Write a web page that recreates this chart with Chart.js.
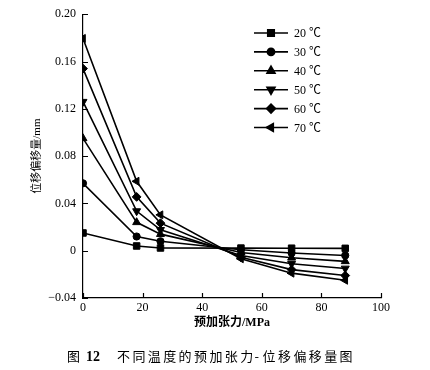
<!DOCTYPE html>
<html>
<head>
<meta charset="utf-8">
<script src="https://cdn.jsdelivr.net/npm/chart.js@4.4.0/dist/chart.umd.min.js"></script>
<style>
  html, body { margin: 0; padding: 0; background: #fff; }
  #wrap { width: 430px; height: 370px; }
</style>
</head>
<body>
<div id="wrap"><canvas id="tensionChart" width="430" height="370"></canvas></div>
<script>
// 预加张力 (MPa)
const tension = [0, 18, 26, 53, 70, 88];

// 位移偏移量 (mm)
const t20 = [0.015, 0.004, 0.0023, 0.0022, 0.0021, 0.002];
const t30 = [0.057, 0.012, 0.008, 0.0008, -0.002, -0.004];
const t40 = [0.095, 0.024, 0.014, -0.0015, -0.006, -0.009];
const t50 = [0.126, 0.0335, 0.0177, -0.004, -0.011, -0.015];
const t60 = [0.154, 0.0455, 0.0233, -0.0055, -0.016, -0.021];
const t70 = [0.1795, 0.0587, 0.0303, -0.0068, -0.019, -0.025];

const seriesNames = ['20 ℃', '30 ℃', '40 ℃', '50 ℃', '60 ℃', '70 ℃'];
const xTicks = [0, 20, 40, 60, 80, 100];
const yTicks = [-0.04, 0, 0.04, 0.08, 0.12, 0.16, 0.20];

const serif = '"Liberation Serif", "Noto Sans CJK SC", serif';

const markers = [
    { style: 'rect', radius: 4.6, rotation: 0 },
    { style: 'circle', radius: 3.6, rotation: 0 },
    { style: 'triangle', radius: 4.6, rotation: 0 },
    { style: 'triangle', radius: 4.6, rotation: 180 },
    { style: 'rectRot', radius: 4.4, rotation: 0 },
    { style: 'triangle', radius: 4.6, rotation: -90 }
];

const values = [t20, t30, t40, t50, t60, t70];

const datasets = values.map((arr, i) => ({
    label: seriesNames[i],
    data: arr.map((v, j) => ({ x: tension[j], y: v })),
    borderColor: '#000',
    backgroundColor: '#000',
    borderWidth: 1.6,
    pointStyle: markers[i].style,
    pointRadius: markers[i].radius,
    pointRotation: markers[i].rotation,
    pointBorderWidth: 1,
    tension: 0
}));

// 刻度线朝内
const innerTicks = {
    id: 'innerTicks',
    afterDraw(chart) {
        const c = chart.ctx;
        const xs = chart.scales.x, ys = chart.scales.y;
        c.save();
        c.strokeStyle = '#000';
        c.lineWidth = 1.2;
        c.beginPath();
        xTicks.forEach(v => {
            const px = Math.round(xs.getPixelForValue(v)) + 0.5;
            c.moveTo(px, ys.bottom);
            c.lineTo(px, ys.bottom - 5);
        });
        yTicks.forEach(v => {
            const py = Math.round(ys.getPixelForValue(v)) + 0.5;
            c.moveTo(xs.left, py);
            c.lineTo(xs.left + 5, py);
        });
        c.stroke();
        c.restore();
    }
};

// 图内图例
const insideLegend = {
    id: 'insideLegend',
    afterDraw(chart) {
        const c = chart.ctx;
        c.save();
        chart.data.datasets.forEach((ds, i) => {
            const y = 33 + i * 18.9;
            c.strokeStyle = '#000';
            c.lineWidth = 1.6;
            c.beginPath();
            c.moveTo(254, y);
            c.lineTo(288, y);
            c.stroke();
            c.fillStyle = '#000';
            Chart.helpers.drawPoint(c, {
                pointStyle: ds.pointStyle,
                radius: ds.pointRadius,
                rotation: ds.pointRotation,
                borderWidth: 1
            }, 271, y);
            c.fill();
            c.font = '12px ' + serif;
            c.textBaseline = 'middle';
            c.textAlign = 'left';
            c.fillText(ds.label, 294, y + 1);
        });
        c.restore();
    }
};

// 图题
const caption = {
    id: 'caption',
    afterDraw(chart) {
        const c = chart.ctx;
        c.save();
        c.fillStyle = '#000';
        c.textBaseline = 'middle';
        c.textAlign = 'left';
        const y = 356;
        c.font = '13px "Noto Sans CJK SC"';
        c.fillText('图', 67, y);
        c.font = 'bold 14px ' + serif;
        c.fillText('12', 86, y + 1);
        const text = '不同温度的预加张力-位移偏移量图';
        c.font = '13px "Noto Sans CJK SC"';
        let x = 117;
        for (const ch of text) {
            if (ch === '-') {
                c.fillText(ch, x - 1, y);
                x += 7;
            } else {
                c.fillText(ch, x, y);
                x += 15.4;
            }
        }
        c.restore();
    }
};

const config = {
    type: 'line',
    data: { datasets: datasets },
    options: {
        responsive: false,
        animation: false,
        layout: { padding: { top: 11, right: 49, left: 27, bottom: 40 } },
        scales: {
            x: {
                type: 'linear',
                min: 0,
                max: 100,
                afterFit(s) { s.height = 32; },
                afterBuildTicks(s) { s.ticks = xTicks.map(v => ({ value: v })); },
                grid: { display: false, drawTicks: false },
                border: { display: true, color: '#000', width: 1.2 },
                ticks: {
                    color: '#000',
                    padding: 3,
                    maxRotation: 0,
                    font: { family: serif, size: 12 }
                },
                title: {
                    display: true,
                    text: '预加张力/MPa',
                    color: '#000',
                    padding: { top: 0, bottom: 0 },
                    font: { family: serif, size: 12, weight: 'bold' }
                }
            },
            y: {
                min: -0.04,
                max: 0.20,
                afterFit(s) { s.width = 56; },
                afterBuildTicks(s) { s.ticks = yTicks.map(v => ({ value: v })); },
                grid: { display: false, drawTicks: false },
                border: { display: true, color: '#000', width: 1.2 },
                ticks: {
                    color: '#000',
                    padding: 7,
                    font: { family: serif, size: 12 },
                    callback: v => {
                        if (Math.abs(v) < 1e-9) return '0';
                        return (v < 0 ? '−' : '') + Math.abs(v).toFixed(2);
                    }
                },
                title: {
                    display: true,
                    text: '位移偏移量/mm',
                    color: '#000',
                    font: { family: serif, size: 11 }
                }
            }
        },
        plugins: {
            legend: { display: false },
            tooltip: { enabled: false }
        }
    },
    plugins: [innerTicks, insideLegend, caption]
};

const tensionChart = new Chart(document.getElementById('tensionChart').getContext('2d'), config);
</script>
</body>
</html>
